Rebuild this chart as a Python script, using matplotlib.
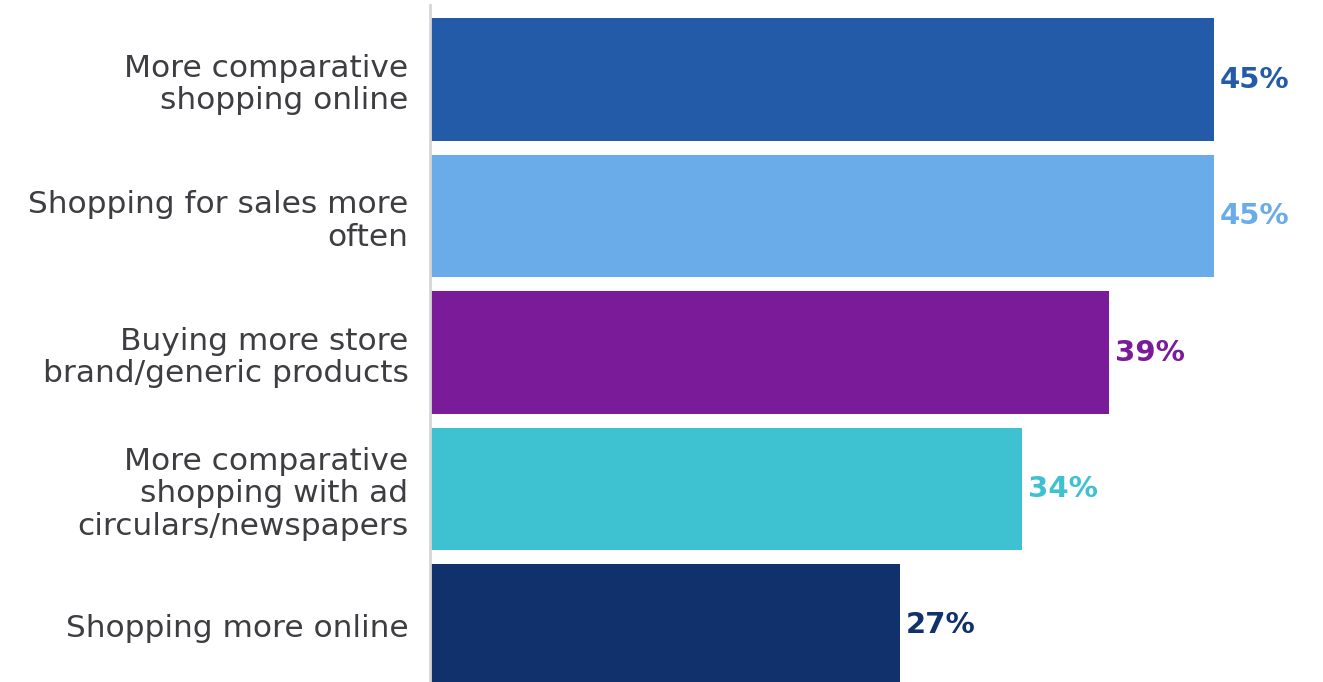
import matplotlib.pyplot as plt

# survey answers, top to bottom
categories = [
    "More comparative\nshopping online",
    "Shopping for sales more\noften",
    "Buying more store\nbrand/generic products",
    "More comparative\nshopping with ad\ncirculars/newspapers",
    "Shopping more online",
]
values = [45, 45, 39, 34, 27]
colors = ["#235BA8", "#6AACEA", "#7A1C99", "#3EC1D0", "#10316B"]

W, H = 1323, 682
fig = plt.figure(figsize=(W / 100, H / 100), dpi=100)
ax = fig.add_axes([430 / W, 0, (W - 430) / W, 677 / H])

pos = list(range(len(values)))
ax.barh(pos, values, height=0.9, color=colors)

for p, v, c in zip(pos, values, colors):
    ax.annotate(f"{v}%", (v, p), xytext=(4, 0), textcoords="offset points",
                ha="left", va="center", fontsize=21, fontweight="bold", color=c)

ax.set_xlim(0, (W - 430) / 17.42)
ax.set_ylim(4.414, -0.546)

ax.set_yticks(pos)
ax.set_yticklabels(categories, fontsize=22.5, color="#3d3d42", ha="right",
                   linespacing=1.17)
ax.tick_params(axis="y", length=0, pad=15.5)
ax.set_xticks([])

for s in ["top", "right", "bottom"]:
    ax.spines[s].set_visible(False)
ax.spines["left"].set_color("#d6d6d6")
ax.spines["left"].set_linewidth(2)

fig.savefig("out.png", dpi=100)
